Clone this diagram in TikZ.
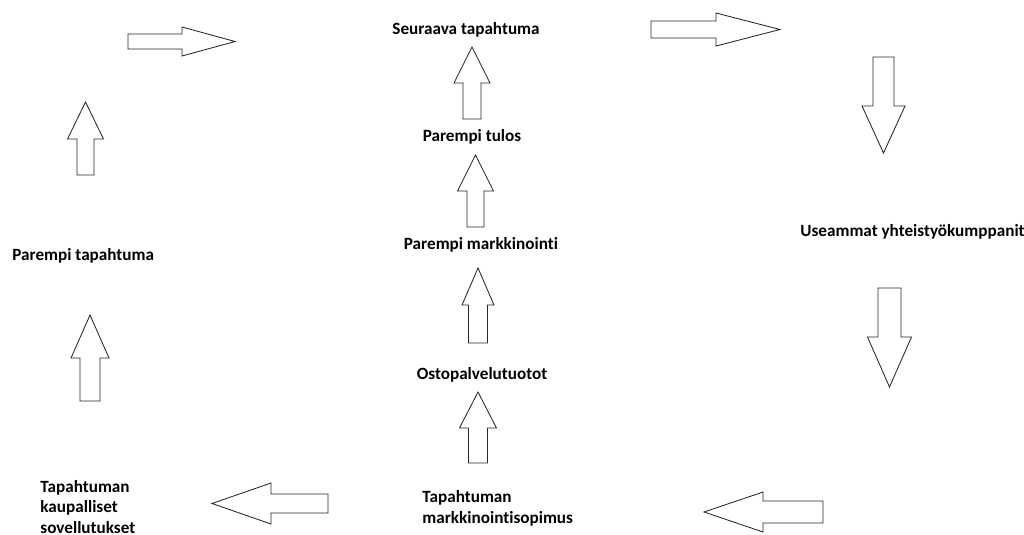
\documentclass[tikz,border=0pt]{standalone}
\usepackage{fontspec}
\setmainfont[Ligatures=NoCommon]{Carlito}
\usepackage{tikz}

\begin{document}
\begin{tikzpicture}[x=0.025cm,y=-0.025cm,line width=0.6pt,
  txt/.style={font=\bfseries\fontsize{12.2}{14.6}\selectfont,inner sep=0pt,align=left},
  pics/blockarr/.style args={#1/#2/#3/#4}{code={
    \draw[black!85,fill=white,line join=miter] (0,-#2) -- ({#1-#4},-#2) -- ({#1-#4},-#3) -- (#1,0)
      -- ({#1-#4},#3) -- ({#1-#4},#2) -- (0,#2) -- cycle;}}]
\useasboundingbox (0,0) rectangle (1024,534);
% texts
\node[txt] (seur) at (466,30) {Seuraava tapahtuma};
\node[txt] (tulos) at (472,137) {Parempi tulos};
\node[txt] (mark) at (481,245) {Parempi markkinointi};
\node[txt] (osto) at (482,375) {Ostopalvelutuotot};
\node[txt,anchor=west] (sopim) at (422,508.5) {Tapahtuman\\markkinointisopimus};
\node[txt,anchor=west] (kaup) at (40,507) {Tapahtuman\\kaupalliset\\sovellutukset};
\node[txt,anchor=west] (partap) at (12,256) {Parempi tapahtuma};
\node[txt,anchor=west] (useam) at (800,232) {Useammat yhteistyökumppanit};
% block arrows
\pic (ra1) at (128,41.5) {blockarr={107/7.5/14.5/53}};
\pic (ra2) at (651,29.5) {blockarr={129/8.5/16.5/64}};
\pic[rotate=-90] (da1) at (883.5,57) {blockarr={96/10.5/21.5/47}};
\pic[rotate=-90] (da2) at (889.5,288) {blockarr={99/11.5/22/50}};
\pic[rotate=180] (la1) at (823,512) {blockarr={119/11/20/59}};
\pic[rotate=180] (la2) at (328,503.5) {blockarr={116/9.5/20.5/59}};
\pic[rotate=90] (ua1) at (90,401) {blockarr={86/10/19/43}};
\pic[rotate=90] (ua2) at (85.5,175) {blockarr={73/8.5/18/37}};
\pic[rotate=90] (ma1) at (478,463) {blockarr={71/9.5/18.5/36}};
\pic[rotate=90] (ma2) at (478,343) {blockarr={75/9.5/16/37}};
\pic[rotate=90] (ma3) at (475.5,227) {blockarr={72/8.5/18/36}};
\pic[rotate=90] (ma4) at (472,119) {blockarr={72/9/18/36}};
\end{tikzpicture}
\end{document}
